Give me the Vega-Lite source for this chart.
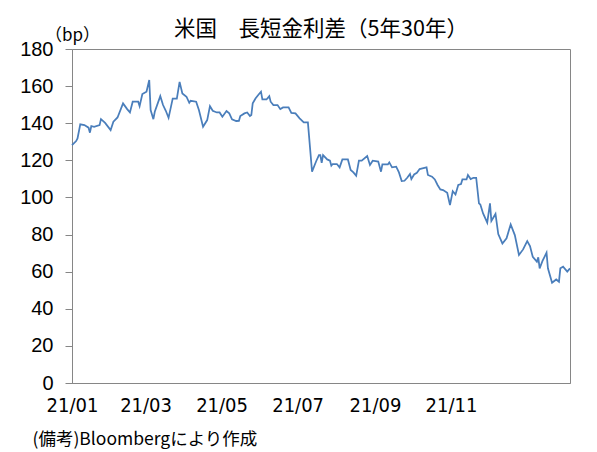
{
  "$schema": "https://vega.github.io/schema/vega-lite/v6.json",
  "width": 498,
  "height": 334,
  "autosize": "none",
  "padding": {"left": 72, "top": 49, "right": 27, "bottom": 69},
  "background": "white",
  "title": {
    "text": "米国　長短金利差（5年30年）",
    "font": "Noto Sans CJK JP",
    "fontSize": 21.5,
    "fontWeight": "normal",
    "color": "#000000",
    "anchor": "middle",
    "frame": "group",
    "offset": 4,
    "dy": 18
  },
  "config": {
    "view": {"stroke": "#868686", "strokeWidth": 1}
  },
  "data": {
    "values": [
      {"date": "2021-01-04", "spread": 128.2},
      {"date": "2021-01-07", "spread": 130.4},
      {"date": "2021-01-08", "spread": 131.8},
      {"date": "2021-01-10", "spread": 139.4},
      {"date": "2021-01-13", "spread": 139.0},
      {"date": "2021-01-16", "spread": 137.6},
      {"date": "2021-01-17", "spread": 134.9},
      {"date": "2021-01-18", "spread": 138.5},
      {"date": "2021-01-20", "spread": 138.1},
      {"date": "2021-01-24", "spread": 139.0},
      {"date": "2021-01-25", "spread": 142.2},
      {"date": "2021-01-28", "spread": 140.2},
      {"date": "2021-02-01", "spread": 136.3},
      {"date": "2021-02-03", "spread": 140.8},
      {"date": "2021-02-06", "spread": 143.1},
      {"date": "2021-02-10", "spread": 150.7},
      {"date": "2021-02-13", "spread": 147.6},
      {"date": "2021-02-15", "spread": 145.8},
      {"date": "2021-02-17", "spread": 151.6},
      {"date": "2021-02-21", "spread": 151.6},
      {"date": "2021-02-22", "spread": 149.2},
      {"date": "2021-02-24", "spread": 155.7},
      {"date": "2021-02-27", "spread": 157.0},
      {"date": "2021-03-01", "spread": 163.3},
      {"date": "2021-03-02", "spread": 147.1},
      {"date": "2021-03-04", "spread": 142.2},
      {"date": "2021-03-05", "spread": 146.2},
      {"date": "2021-03-09", "spread": 154.6},
      {"date": "2021-03-11", "spread": 149.8},
      {"date": "2021-03-13", "spread": 146.7},
      {"date": "2021-03-15", "spread": 142.9},
      {"date": "2021-03-18", "spread": 153.3},
      {"date": "2021-03-21", "spread": 153.3},
      {"date": "2021-03-23", "spread": 162.3},
      {"date": "2021-03-25", "spread": 156.0},
      {"date": "2021-03-28", "spread": 154.3},
      {"date": "2021-03-30", "spread": 151.0},
      {"date": "2021-03-31", "spread": 152.1},
      {"date": "2021-04-04", "spread": 151.6},
      {"date": "2021-04-06", "spread": 147.1},
      {"date": "2021-04-09", "spread": 138.1},
      {"date": "2021-04-12", "spread": 141.7},
      {"date": "2021-04-14", "spread": 149.2},
      {"date": "2021-04-16", "spread": 146.7},
      {"date": "2021-04-19", "spread": 145.8},
      {"date": "2021-04-21", "spread": 145.8},
      {"date": "2021-04-23", "spread": 143.5},
      {"date": "2021-04-26", "spread": 146.6},
      {"date": "2021-04-28", "spread": 145.3},
      {"date": "2021-04-30", "spread": 142.1},
      {"date": "2021-05-03", "spread": 141.2},
      {"date": "2021-05-05", "spread": 141.3},
      {"date": "2021-05-06", "spread": 143.9},
      {"date": "2021-05-09", "spread": 145.3},
      {"date": "2021-05-11", "spread": 145.8},
      {"date": "2021-05-13", "spread": 143.9},
      {"date": "2021-05-14", "spread": 144.4},
      {"date": "2021-05-15", "spread": 150.7},
      {"date": "2021-05-17", "spread": 153.3},
      {"date": "2021-05-19", "spread": 155.2},
      {"date": "2021-05-21", "spread": 157.0},
      {"date": "2021-05-22", "spread": 152.8},
      {"date": "2021-05-25", "spread": 152.8},
      {"date": "2021-05-27", "spread": 154.6},
      {"date": "2021-05-28", "spread": 151.6},
      {"date": "2021-05-30", "spread": 149.8},
      {"date": "2021-06-02", "spread": 149.8},
      {"date": "2021-06-04", "spread": 147.6},
      {"date": "2021-06-06", "spread": 148.5},
      {"date": "2021-06-10", "spread": 148.5},
      {"date": "2021-06-12", "spread": 145.6},
      {"date": "2021-06-15", "spread": 145.3},
      {"date": "2021-06-18", "spread": 142.6},
      {"date": "2021-06-21", "spread": 140.4},
      {"date": "2021-06-24", "spread": 140.4},
      {"date": "2021-06-27", "spread": 113.9},
      {"date": "2021-06-30", "spread": 119.5},
      {"date": "2021-07-02", "spread": 122.8},
      {"date": "2021-07-03", "spread": 122.8},
      {"date": "2021-07-04", "spread": 118.7},
      {"date": "2021-07-05", "spread": 122.8},
      {"date": "2021-07-08", "spread": 120.5},
      {"date": "2021-07-10", "spread": 119.8},
      {"date": "2021-07-11", "spread": 117.1},
      {"date": "2021-07-12", "spread": 118.0},
      {"date": "2021-07-15", "spread": 118.0},
      {"date": "2021-07-17", "spread": 116.2},
      {"date": "2021-07-19", "spread": 120.5},
      {"date": "2021-07-23", "spread": 120.5},
      {"date": "2021-07-25", "spread": 114.8},
      {"date": "2021-07-27", "spread": 113.5},
      {"date": "2021-07-29", "spread": 111.7},
      {"date": "2021-07-31", "spread": 119.8},
      {"date": "2021-08-02", "spread": 119.8},
      {"date": "2021-08-06", "spread": 122.3},
      {"date": "2021-08-08", "spread": 117.5},
      {"date": "2021-08-10", "spread": 119.8},
      {"date": "2021-08-14", "spread": 119.3},
      {"date": "2021-08-16", "spread": 113.9},
      {"date": "2021-08-17", "spread": 117.8},
      {"date": "2021-08-21", "spread": 117.8},
      {"date": "2021-08-22", "spread": 118.9},
      {"date": "2021-08-24", "spread": 116.2},
      {"date": "2021-08-27", "spread": 116.6},
      {"date": "2021-08-29", "spread": 113.5},
      {"date": "2021-08-31", "spread": 108.8},
      {"date": "2021-09-02", "spread": 109.0},
      {"date": "2021-09-04", "spread": 110.6},
      {"date": "2021-09-06", "spread": 112.6},
      {"date": "2021-09-07", "spread": 109.9},
      {"date": "2021-09-09", "spread": 112.4},
      {"date": "2021-09-11", "spread": 113.3},
      {"date": "2021-09-13", "spread": 115.3},
      {"date": "2021-09-15", "spread": 115.7},
      {"date": "2021-09-18", "spread": 116.2},
      {"date": "2021-09-19", "spread": 112.1},
      {"date": "2021-09-22", "spread": 111.2},
      {"date": "2021-09-24", "spread": 109.7},
      {"date": "2021-09-26", "spread": 106.7},
      {"date": "2021-09-28", "spread": 104.3},
      {"date": "2021-09-30", "spread": 104.0},
      {"date": "2021-10-03", "spread": 102.5},
      {"date": "2021-10-05", "spread": 95.9},
      {"date": "2021-10-07", "spread": 103.4},
      {"date": "2021-10-09", "spread": 101.6},
      {"date": "2021-10-11", "spread": 106.7},
      {"date": "2021-10-13", "spread": 107.2},
      {"date": "2021-10-14", "spread": 109.7},
      {"date": "2021-10-17", "spread": 109.7},
      {"date": "2021-10-18", "spread": 112.1},
      {"date": "2021-10-20", "spread": 109.9},
      {"date": "2021-10-22", "spread": 110.6},
      {"date": "2021-10-24", "spread": 110.6},
      {"date": "2021-10-26", "spread": 96.8},
      {"date": "2021-10-27", "spread": 96.2},
      {"date": "2021-10-29", "spread": 91.4},
      {"date": "2021-11-01", "spread": 86.4},
      {"date": "2021-11-03", "spread": 96.8},
      {"date": "2021-11-04", "spread": 87.3},
      {"date": "2021-11-07", "spread": 91.1},
      {"date": "2021-11-09", "spread": 80.3},
      {"date": "2021-11-12", "spread": 75.2},
      {"date": "2021-11-15", "spread": 78.0},
      {"date": "2021-11-18", "spread": 85.5},
      {"date": "2021-11-21", "spread": 79.7},
      {"date": "2021-11-24", "spread": 69.0},
      {"date": "2021-11-27", "spread": 72.0},
      {"date": "2021-11-30", "spread": 76.5},
      {"date": "2021-12-02", "spread": 73.8},
      {"date": "2021-12-04", "spread": 68.0},
      {"date": "2021-12-07", "spread": 65.4},
      {"date": "2021-12-08", "spread": 67.7},
      {"date": "2021-12-09", "spread": 61.8},
      {"date": "2021-12-11", "spread": 65.7},
      {"date": "2021-12-14", "spread": 70.2},
      {"date": "2021-12-15", "spread": 61.8},
      {"date": "2021-12-18", "spread": 54.0},
      {"date": "2021-12-21", "spread": 55.8},
      {"date": "2021-12-23", "spread": 54.6},
      {"date": "2021-12-24", "spread": 61.8},
      {"date": "2021-12-26", "spread": 62.7},
      {"date": "2021-12-29", "spread": 60.0},
      {"date": "2021-12-31", "spread": 61.8}
    ]
  },
  "encoding": {
    "y": {
      "field": "spread",
      "type": "quantitative",
      "scale": {"domain": [0, 180], "nice": false, "zero": true},
      "axis": {
        "values": [0, 20, 40, 60, 80, 100, 120, 140, 160, 180],
        "grid": false,
        "domainColor": "#868686",
        "tickColor": "#868686",
        "tickSize": 7,
        "labelPadding": 12,
        "labelFont": "Liberation Sans",
        "labelFontSize": 20,
        "labelColor": "#000000",
        "title": "（bp）",
        "titleFont": "Noto Sans CJK JP",
        "titleFontSize": 17,
        "titleFontWeight": "normal",
        "titleColor": "#000000",
        "titleAngle": 0,
        "titleAlign": "center",
        "titleBaseline": "middle",
        "titleX": 0,
        "titleY": -14
      }
    }
  },
  "layer": [
    {
      "mark": {"type": "line", "color": "#4a7ebb", "strokeWidth": 1.75},
      "encoding": {
        "x": {
          "field": "date",
          "type": "temporal",
          "scale": {
            "domain": [
              {"year": 2021, "month": 1, "date": 4, "utc": true},
              {"year": 2021, "month": 12, "date": 31, "utc": true}
            ]
          },
          "axis": null
        }
      }
    },
    {
      "mark": {"type": "point", "opacity": 0},
      "encoding": {
        "x": {
          "field": "date",
          "type": "temporal",
          "scale": {
            "domain": [
              {"year": 2021, "month": 1, "date": 1, "utc": true},
              {"year": 2022, "month": 2, "date": 4, "hours": 12, "utc": true}
            ]
          },
          "axis": {
            "orient": "bottom",
            "values": [
              {"year": 2021, "month": 1, "date": 1, "utc": true},
              {"year": 2021, "month": 3, "date": 1, "utc": true},
              {"year": 2021, "month": 5, "date": 1, "utc": true},
              {"year": 2021, "month": 7, "date": 1, "utc": true},
              {"year": 2021, "month": 9, "date": 1, "utc": true},
              {"year": 2021, "month": 11, "date": 1, "utc": true}
            ],
            "labelExpr": "utcFormat(datum.value, '%y/%m')",
            "grid": false,
            "ticks": false,
            "domainColor": "#868686",
            "labelDx": -10,
            "labelPadding": 12,
            "labelFont": "Liberation Sans Narrow, DejaVu Sans Condensed, Noto Sans CJK JP",
            "labelFontSize": 20,
            "labelColor": "#000000",
            "labelFlush": false,
            "labelOverlap": false,
            "title": "(備考)Bloombergにより作成",
            "titleFont": "Noto Sans CJK JP",
            "titleFontSize": 17.5,
            "titleFontWeight": "normal",
            "titleColor": "#000000",
            "titleAnchor": "start",
            "titleAlign": "left",
            "titleBaseline": "alphabetic",
            "titleX": -40,
            "titleY": 61
          }
        }
      }
    }
  ],
  "resolve": {"scale": {"x": "independent"}, "axis": {"x": "independent"}}
}
